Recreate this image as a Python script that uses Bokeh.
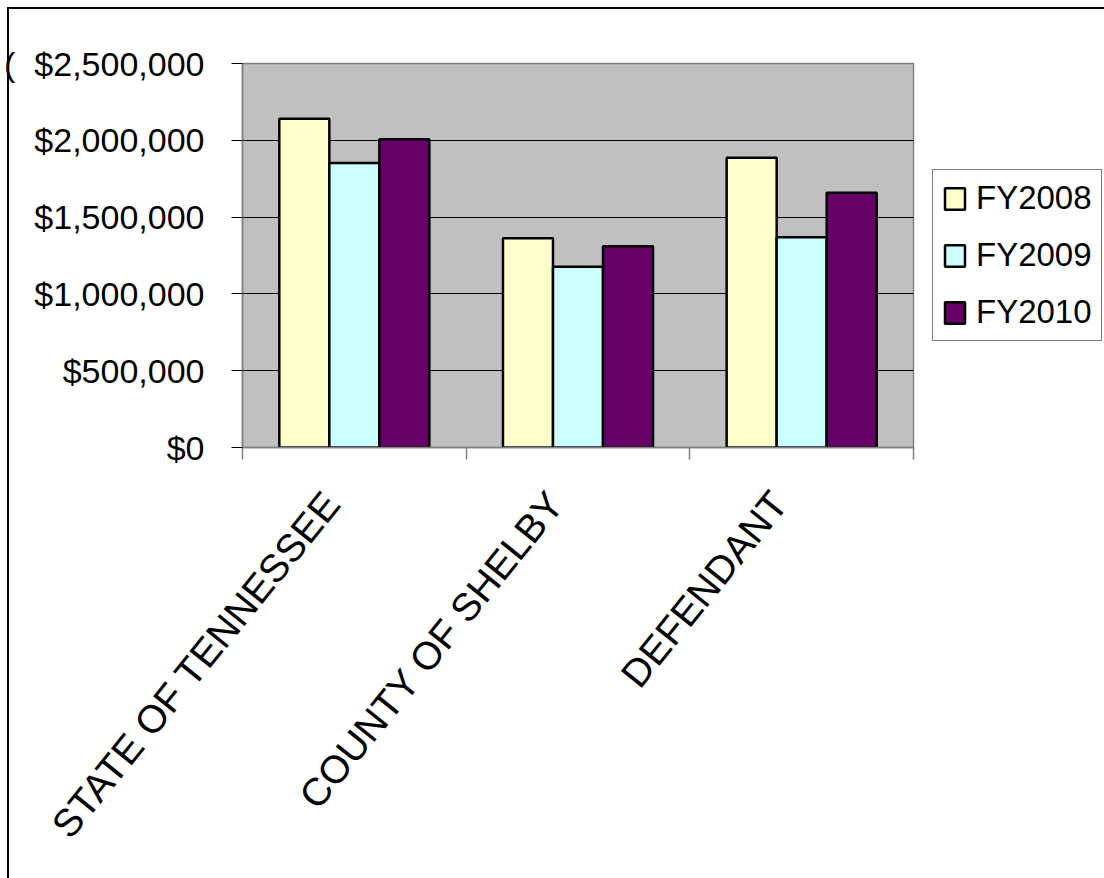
import numpy as np
from bokeh.plotting import figure
from bokeh.models import (Range1d, FixedTicker, NumeralTickFormatter, Legend, LegendItem,
                          ColumnDataSource)
from bokeh.embed import file_html
from bokeh.resources import INLINE

categories = ["STATE OF TENNESSEE", "COUNTY OF SHELBY", "DEFENDANT"]
series_names = ["FY2008", "FY2009", "FY2010"]
fy2008 = [2140000, 1363000, 1886000]
fy2009 = [1853000, 1176000, 1369000]
fy2010 = [2007000, 1311000, 1658000]
series_values = [fy2008, fy2009, fy2010]
series_colors = ["#FFFFCC", "#CCFFFF", "#660066"]
y_ticks = [0, 500000, 1000000, 1500000, 2000000, 2500000]

FONT = "Liberation Sans"

p = figure(width=1104, height=878, frame_width=671, frame_height=384,
           output_backend="svg", toolbar_location=None,
           x_range=Range1d(0, len(categories)), y_range=Range1d(0, 2500000),
           min_border_left=242, min_border_top=63, min_border_right=191, min_border_bottom=431)

p.background_fill_color = "#C0C0C0"
p.border_fill_alpha = 0
p.outline_line_color = "#808080"
p.outline_line_width = 1.5
# outer chart border (left and top edges), drawn as the element background
p.styles = {"background": "linear-gradient(#fff,#fff) 100% 0 / 8px 100% no-repeat, "
                          "linear-gradient(#000,#000) 7px 7px / 2px 100% no-repeat, "
                          "linear-gradient(#000,#000) 7px 7px / 100% 2px no-repeat, #ffffff"}

# grid
p.xgrid.visible = False
p.ygrid.grid_line_color = "black"
p.ygrid.grid_line_width = 1
p.ygrid.ticker = FixedTicker(ticks=y_ticks)

# y axis
yax = p.yaxis[0]
yax.ticker = FixedTicker(ticks=y_ticks)
yax.formatter = NumeralTickFormatter(format="$0,0")
yax.major_tick_out = 11
yax.major_tick_in = 0
yax.minor_tick_out = 0
yax.minor_tick_in = 0
yax.major_tick_line_color = "black"
yax.axis_line_color = "#808080"
yax.axis_line_width = 1.5
yax.major_label_standoff = 27
yax.major_label_text_font = FONT
yax.major_label_text_font_size = "34px"
yax.major_label_text_color = "black"
yax.axis_label = "("
yax.axis_label_orientation = "horizontal"
yax.axis_label_align = "end"
yax.axis_label_standoff = 16
yax.axis_label_text_font = FONT
yax.axis_label_text_font_size = "34px"
yax.axis_label_text_font_style = "normal"
yax.axis_label_text_color = "black"

# x axis
centers = [i + 0.5 for i in range(len(categories))]
bounds = [float(i) for i in range(len(categories) + 1)]
label_pos = [c - 0.10 for c in centers]
xax = p.xaxis[0]
xax.ticker = FixedTicker(ticks=label_pos, minor_ticks=bounds)
xax.major_label_overrides = {c: name for c, name in zip(label_pos, categories)}
xax.major_label_orientation = np.deg2rad(51)
xax.major_tick_out = 0
xax.major_tick_in = 0
xax.minor_tick_out = 12
xax.minor_tick_in = 0
xax.minor_tick_line_color = "#808080"
xax.minor_tick_line_width = 1.5
xax.axis_line_color = "#808080"
xax.axis_line_width = 1.5
xax.major_label_standoff = 37
xax.major_label_text_font = FONT
xax.major_label_text_font_size = "39px"
xax.major_label_text_color = "black"

# bars
bar_w = 0.2236
offsets = [-bar_w, 0.0, bar_w]
items = []
for name, vals, col, off in zip(series_names, series_values, series_colors, offsets):
    src = ColumnDataSource(dict(x=[c + off for c in centers], top=vals))
    r = p.vbar(x="x", top="top", bottom=0, width=bar_w, source=src,
               fill_color=col, line_color="black", line_width=2.5)
    items.append(LegendItem(label=name, renderers=[r]))

legend = Legend(items=items, location=(19, 106))
legend.label_text_font = FONT
legend.label_text_font_size = "33px"
legend.label_text_color = "black"
legend.glyph_width = 25
legend.glyph_height = 27
legend.label_standoff = 9
legend.label_height = 38
legend.padding = 9
legend.margin = 0
legend.spacing = 19
legend.border_line_color = "black"
legend.border_line_width = 1
legend.background_fill_color = "white"
legend.background_fill_alpha = 1
p.add_layout(legend, "right")

open("out.html", "w").write(file_html(p, INLINE))
